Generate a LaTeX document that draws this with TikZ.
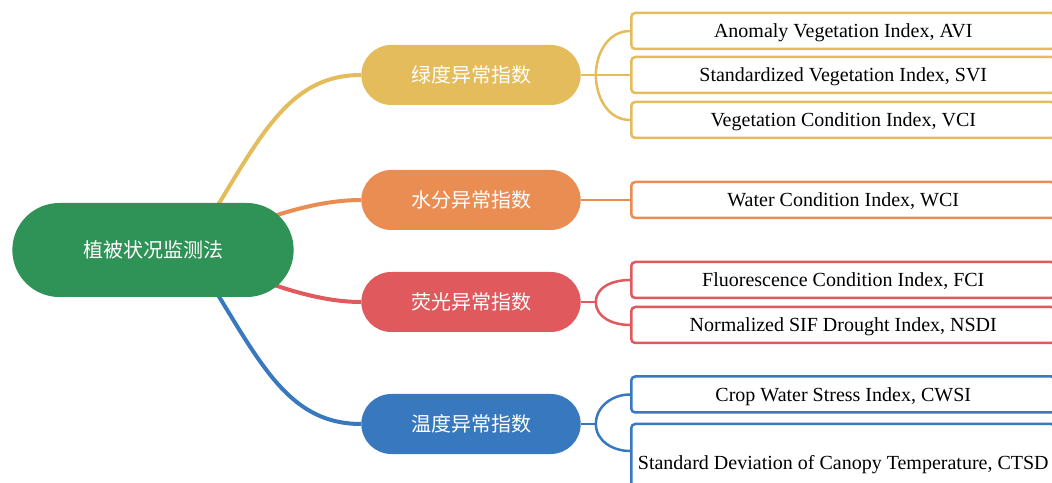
\documentclass[tikz,border=0pt]{standalone}
\usepackage{fontspec}
\setmainfont{Liberation Serif}
\newfontfamily\cjk{Noto Sans CJK SC}
\usetikzlibrary{shapes.misc,backgrounds}
\definecolor{rootgreen}{RGB}{47,146,86}
\definecolor{greenyellow}{RGB}{229,188,91}
\definecolor{waterorange}{RGB}{234,141,83}
\definecolor{fluored}{RGB}{223,89,93}
\definecolor{tempblue}{RGB}{56,120,191}
\tikzset{
  root/.style={rounded rectangle, fill=rootgreen, text=white,
    minimum width=288pt, minimum height=94pt, font=\cjk\fontsize{20}{24}\selectfont},
  branch/.style={rounded rectangle, fill=#1, text=white,
    minimum width=226pt, minimum height=60pt, font=\cjk\fontsize{20}{24}\selectfont},
  leaf/.style={draw=#1, line width=2.5pt, rounded corners=4pt, fill=white, text=black,
    anchor=west, minimum width=424pt, minimum height=36pt, inner sep=0pt,
    text depth=0pt, font=\fontsize{20}{24}\selectfont},
  trunk/.style={draw=#1, line width=4pt},
  twig/.style={draw=#1, line width=2.5pt},
}
\begin{document}
\begin{tikzpicture}[x=1pt,y=1pt]
  \useasboundingbox (0,0) rectangle (1052,482);
  \clip (0,0) rectangle (1052,482);
  \draw
    (153,232) node[root] (root){植被状况监测法}
    (471,407) node[branch=greenyellow] (green){绿度异常指数}
    (471,282) node[branch=waterorange] (water){水分异常指数}
    (471,180) node[branch=fluored] (fluor){荧光异常指数}
    (471,58) node[branch=tempblue] (temp){温度异常指数}
    (630,451) node[leaf=greenyellow] (avi){Anomaly Vegetation Index, AVI}
    (630,407) node[leaf=greenyellow] (svi){Standardized Vegetation Index, SVI}
    (630,362) node[leaf=greenyellow] (vci){Vegetation Condition Index, VCI}
    (630,282) node[leaf=waterorange] (wci){Water Condition Index, WCI}
    (630,202) node[leaf=fluored] (fci){Fluorescence Condition Index, FCI}
    (630,157) node[leaf=fluored] (nsdi){Normalized SIF Drought Index, NSDI}
    (630,87.5) node[leaf=tempblue] (cwsi){Crop Water Stress Index, CWSI}
    (630,20) node[leaf=tempblue, minimum height=76pt] (ctsd){Standard Deviation of Canopy Temperature, CTSD};
  \coordinate (hub) at (190,232);
  \coordinate (gj) at ([xshift=15pt]green.east);
  \coordinate (fj) at ([xshift=15pt]fluor.east);
  \coordinate (tj) at ([xshift=15pt]temp.east);
  \begin{scope}[on background layer]
    \draw[trunk=greenyellow] (hub) .. controls +(57:120) and +(-80,0) .. (green.west);
    \draw[trunk=waterorange] (hub) .. controls +(25:70) and +(-50,0) .. (water.west);
    \draw[trunk=fluored] (hub) .. controls +(-25:70) and +(-50,0) .. (fluor.west);
    \draw[trunk=tempblue] (hub) .. controls +(-57:120) and +(-80,0) .. (temp.west);
    \draw[twig=greenyellow] (green.east) -- (gj);
    \draw[twig=greenyellow] (gj) to[out=90,in=180] (avi.west);
    \draw[twig=greenyellow] (gj) -- (svi.west);
    \draw[twig=greenyellow] (gj) to[out=-90,in=180] (vci.west);
    \draw[twig=waterorange] (water.east) -- (wci.west);
    \draw[twig=fluored] (fluor.east) -- (fj);
    \draw[twig=fluored] (fj) to[out=90,in=180] (fci.west);
    \draw[twig=fluored] (fj) to[out=-90,in=180] (nsdi.west);
    \draw[twig=tempblue] (temp.east) -- (tj);
    \draw[twig=tempblue] (tj) to[out=90,in=180] (cwsi.west);
    \draw[twig=tempblue] (tj) to[out=-90,in=180] ([yshift=11pt]ctsd.west);
  \end{scope}
\end{tikzpicture}
\end{document}
